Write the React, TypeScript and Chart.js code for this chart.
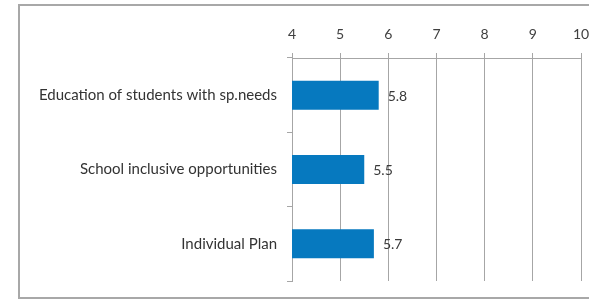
import React, { useEffect, useRef } from "react";
import { Chart, registerables } from "chart.js";

Chart.register(...registerables);

const categories = [
  "Education of students with sp.needs",
  "School inclusive opportunities",
  "Individual Plan",
];
const values = [5.8, 5.5, 5.7];
const axisMin = 4;
const axisMax = 10;

const FONT = "Lato, 'Open Sans', sans-serif";

const framePlugin = {
  id: "frame",
  beforeDraw(chart: any) {
    const ctx = chart.ctx;
    ctx.save();
    ctx.strokeStyle = "#a8a8a8";
    ctx.lineWidth = 2;
    ctx.strokeRect(19, 5, 600, 293);
    ctx.restore();
  },
};

const labelPlugin = {
  id: "valueLabels",
  afterDatasetsDraw(chart: any) {
    const ctx = chart.ctx;
    const meta = chart.getDatasetMeta(0);
    ctx.save();
    ctx.fillStyle = "#3a3a3a";
    ctx.font = "14px " + FONT;
    ctx.textAlign = "left";
    ctx.textBaseline = "middle";
    meta.data.forEach((bar: any, i: number) => {
      ctx.fillText(String(values[i]), bar.x + 9, bar.y + 1);
    });
    ctx.restore();
  },
};

export default function App() {
  const ref = useRef<HTMLCanvasElement | null>(null);
  useEffect(() => {
    document.body.style.margin = "0";
    const c = ref.current!;
    const chart = new Chart(c, {
      type: "bar",
      data: {
        labels: categories,
        datasets: [
          {
            data: values,
            backgroundColor: "#0679bf",
            borderWidth: 0,
            categoryPercentage: 1,
            barPercentage: 0.39,
          },
        ],
      },
      options: {
        indexAxis: "y",
        animation: false,
        responsive: false,
        maintainAspectRatio: false,
        layout: { padding: { left: 0, right: 0, top: 0, bottom: 17 } },
        plugins: { legend: { display: false }, tooltip: { enabled: false } },
        scales: {
          x: {
            position: "top",
            min: axisMin,
            max: axisMax,
            afterFit(scale: any) {
              scale.height = 58;
              scale.paddingRight = 8;
            },
            ticks: {
              stepSize: 1,
              color: "#404040",
              font: { family: FONT, size: 14 },
              padding: 10,
            },
            grid: { color: "#a6a6a6", tickLength: 5, lineWidth: 1 },
            border: { color: "#a6a6a6" },
          },
          y: {
            afterFit(scale: any) {
              scale.width = 292;
            },
            ticks: {
              color: "#333333",
              font: { family: FONT, size: 15 },
              padding: 10,
            },
            grid: {
              offset: true,
              drawOnChartArea: false,
              color: "#a6a6a6",
              tickLength: 5,
            },
            border: { color: "#a6a6a6" },
          },
        },
      },
      plugins: [framePlugin, labelPlugin],
    });
    return () => chart.destroy();
  }, []);
  return <canvas ref={ref} width={589} height={300} style={{ display: "block" }} />;
}
